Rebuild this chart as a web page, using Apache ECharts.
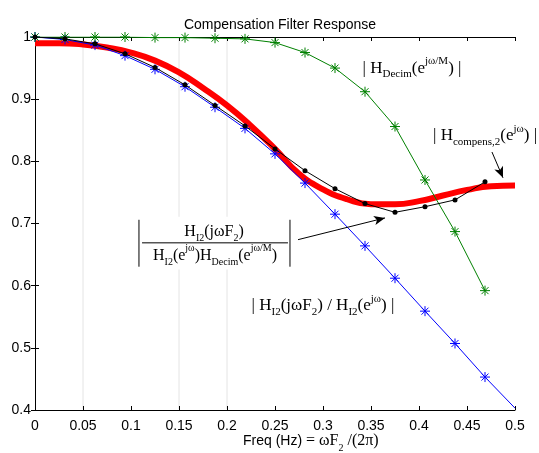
<!DOCTYPE html>
<html><head><meta charset="utf-8">
<script src="https://cdn.jsdelivr.net/npm/echarts@6/dist/echarts.min.js"></script>
<style>html,body{margin:0;padding:0;background:#fff}#c{width:539px;height:453px}</style>
</head><body><div id="c"></div>
<script>
// ---- data ----
const freqK = [0, 0.03125, 0.0625, 0.09375, 0.125, 0.15625, 0.1875, 0.21875, 0.25, 0.28125, 0.3125, 0.34375, 0.375, 0.40625, 0.4375, 0.46875];
const decimVals = [1.000, 1.000, 1.000, 1.000, 0.999, 0.999, 0.998, 0.997, 0.991, 0.975, 0.950, 0.912, 0.856, 0.770, 0.687, 0.592];
const ratioFreq = [0, 0.03125, 0.0625, 0.09375, 0.125, 0.15625, 0.1875, 0.21875, 0.25, 0.28125, 0.3125, 0.34375, 0.375, 0.40625, 0.4375, 0.46875, 0.5];
const ratioVals = [1.000, 0.996, 0.987, 0.970, 0.948, 0.920, 0.887, 0.853, 0.812, 0.765, 0.715, 0.664, 0.612, 0.559, 0.507, 0.453, 0.403];
const invVals = [1.000, 0.997, 0.989, 0.973, 0.951, 0.923, 0.890, 0.857, 0.820, 0.785, 0.756, 0.732, 0.718, 0.727, 0.738, 0.767];
const compFreq = [0, 0.025, 0.05, 0.075, 0.1, 0.125, 0.15, 0.175, 0.2, 0.225, 0.25, 0.275, 0.3, 0.325, 0.35, 0.375, 0.4, 0.425, 0.45, 0.475, 0.5];
const compVals = [0.990, 0.990, 0.988, 0.983, 0.975, 0.962, 0.943, 0.918, 0.890, 0.857, 0.820, 0.780, 0.755, 0.739, 0.731, 0.731, 0.736, 0.745, 0.754, 0.760, 0.761];
const gridXs = [0.05, 0.15, 0.2];
const xTicks = [0, 0.5, 0.05];
const yTicks = [0.4, 1, 0.1];

// ---- styles ----
const sans = '"Liberation Sans", Arial, sans-serif';
const serif = '"Liberation Serif", "Times New Roman", serif';
const star = 'path://M0,5L10,5M5,0L5,10M1.5,1.5L8.5,8.5M8.5,1.5L1.5,8.5';

function pairs(xs, ys) { return xs.map((x, i) => [x, ys[i]]); }
const ratioData = pairs(ratioFreq, ratioVals).map((p, i) => i === ratioFreq.length - 1 ? {value: p, symbol: 'none'} : p);

const axisCommon = {
  type: 'value', min: xTicks[0], max: xTicks[1], interval: xTicks[2],
  axisLine: {show: true, lineStyle: {color: '#000', width: 1}},
  axisTick: {show: true, inside: true, length: 4, lineStyle: {color: '#000'}},
  splitLine: {show: false}
};
const yCommon = {
  type: 'value', min: yTicks[0], max: yTicks[1], interval: yTicks[2],
  axisLine: {show: true, lineStyle: {color: '#000', width: 1}},
  axisTick: {show: true, inside: true, length: 4, lineStyle: {color: '#000'}},
  splitLine: {show: false}
};

const chart = echarts.init(document.getElementById('c'));
chart.setOption({
  animation: false,
  backgroundColor: '#fff',
  title: {text: 'Compensation Filter Response', left: 275, textAlign: 'center', top: 13,
    textStyle: {fontFamily: sans, fontSize: 14, fontWeight: 'normal', color: '#000'}},
  grid: {left: 35, right: 24, top: 37, bottom: 43},
  xAxis: [
    Object.assign({}, axisCommon, {position: 'bottom',
      axisLabel: {color: '#000', fontFamily: sans, fontSize: 14, margin: 9}}),
    Object.assign({}, axisCommon, {position: 'top', axisLabel: {show: false}})
  ],
  yAxis: [
    Object.assign({}, yCommon, {position: 'left',
      axisLabel: {color: '#000', fontFamily: sans, fontSize: 14, margin: 4}}),
    Object.assign({}, yCommon, {position: 'right', axisLabel: {show: false}})
  ],
  series: [
    {type: 'line', name: 'comp', data: pairs(compFreq, compVals), smooth: true, showSymbol: false,
      lineStyle: {color: '#ff0000', width: 6}, z: 3, silent: true},
    {type: 'line', name: 'ratio', data: ratioData, symbol: star, symbolSize: 10,
      itemStyle: {color: '#0000ff', borderColor: '#0000ff', borderWidth: 1},
      lineStyle: {color: '#0000ff', width: 1}, z: 4, silent: true},
    {type: 'line', name: 'decim', data: pairs(freqK, decimVals), symbol: star, symbolSize: 10,
      itemStyle: {color: '#008000', borderColor: '#008000', borderWidth: 1},
      lineStyle: {color: '#008000', width: 1}, z: 5, silent: true},
    {type: 'line', name: 'inv', data: pairs(freqK, invVals), symbol: 'circle', symbolSize: 5,
      itemStyle: {color: '#000'}, lineStyle: {color: '#000', width: 1}, z: 6, silent: true,
      markLine: {silent: true, symbol: ['none', 'arrow'], symbolSize: [7, 11],
        lineStyle: {color: '#000', width: 1, type: 'solid'}, label: {show: false},
        data: [
          [{coord: [0.274, 0.674]}, {coord: [0.3646, 0.709]}],
          [{coord: [0.476, 0.815]}, {coord: [0.4875, 0.7735]}]
        ]}}
  ]
});

const P = (x, y) => chart.convertToPixel({xAxisIndex: 0, yAxisIndex: 0}, [x, y]);
const rich = (m, s) => ({
  m: {fontFamily: serif, fontSize: m, lineHeight: 24, color: '#000'},
  s: {fontFamily: serif, fontSize: s, lineHeight: 12, verticalAlign: 'bottom', color: '#000'},
  p: {fontFamily: serif, fontSize: s, lineHeight: 12, verticalAlign: 'top', color: '#000'}
});
function label(pos, txt, m, s) {
  const c = P(pos[0], pos[1]);
  return {type: 'text', x: c[0], y: c[1], z: 20, silent: true,
    style: {text: txt, rich: rich(m, s), align: 'center', verticalAlign: 'middle'}};
}
const g = [];
gridXs.forEach(x => {
  const a = P(x, yTicks[0]), b = P(x, yTicks[1]);
  g.push({type: 'line', z: 0, silent: true, shape: {x1: a[0], y1: a[1] - 1, x2: b[0], y2: b[1] + 1},
    style: {stroke: '#e4e4e4', lineWidth: 1}});
});
// white box behind fraction label
const r1 = P(0.105, 0.711), r2 = P(0.268, 0.626);
g.push({type: 'rect', z: 1, silent: true, shape: {x: r1[0], y: r1[1], width: r2[0] - r1[0], height: r2[1] - r1[1]},
  style: {fill: '#fff'}});
g.push(label([0.3927, 0.950], '{m|| H}{s|Decim}{m|(e}{p|jω/M}{m|) |}', 17, 11));
g.push(label([0.4688, 0.841], '{m|| H}{s|compens,2}{m|(e}{p|jω}{m|) |}', 17, 11));
g.push(label([0.300, 0.568], '{m|| H}{s|I2}{m|(jωF}{s|2}{m|) / H}{s|I2}{m|(e}{p|jω}{m|) |}', 17, 11));
g.push(label([0.1865, 0.687], '{m|H}{s|I2}{m|(jωF}{s|2}{m|)}', 16, 10));
g.push(label([0.1875, 0.648], '{m|H}{s|I2}{m|(e}{p|jω}{m|)H}{s|Decim}{m|(e}{p|jω/M}{m|)}', 16, 10));
// fraction bar and absolute-value bars
const f1 = P(0.1115, 0.669), f2 = P(0.2635, 0.669);
g.push({type: 'line', z: 20, silent: true, shape: {x1: f1[0], y1: f1[1], x2: f2[0], y2: f2[1]}, style: {stroke: '#555', lineWidth: 1.5}});
[0.1083, 0.2656].forEach(x => {
  const a = P(x, 0.706), b = P(x, 0.6305);
  g.push({type: 'line', z: 20, silent: true, shape: {x1: a[0], y1: a[1], x2: b[0], y2: b[1]}, style: {stroke: '#000', lineWidth: 1}});
});
// x axis name
const xl = P(0.2167, 0.4);
g.push({type: 'text', x: xl[0], y: xl[1] + 31, z: 20, silent: true,
  style: {text: '{a|Freq (Hz) }{m|= ωF}{s|2}{m| /(2π)}', align: 'left', verticalAlign: 'middle',
    rich: Object.assign(rich(16, 10), {a: {fontFamily: sans, fontSize: 14, lineHeight: 24, color: '#000'}})}});
chart.setOption({graphic: g});
</script></body></html>
